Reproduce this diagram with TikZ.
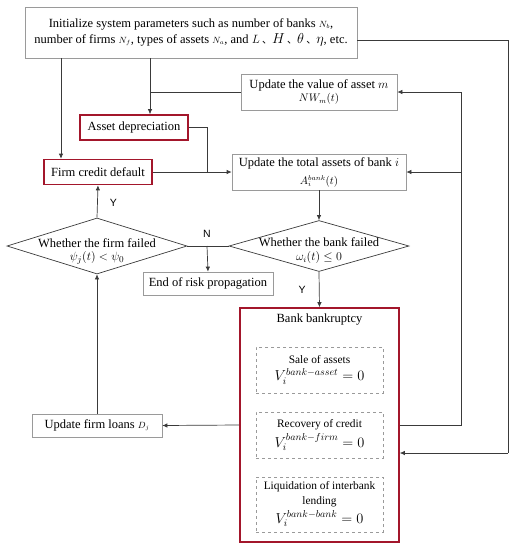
\documentclass[tikz,border=0pt]{standalone}
\usepackage{fontspec}
\setmainfont{Liberation Serif}
\newfontfamily\cjk{Noto Sans CJK SC}
\newfontfamily\labfont{Liberation Sans}
\usetikzlibrary{arrows.meta,shapes.geometric}
\definecolor{myred}{HTML}{A3162B}
\definecolor{bgray}{HTML}{9A9A9A}
\definecolor{lgray}{HTML}{3A3A3A}
\newcommand{\fs}[1]{\fontsize{#1}{#1}\selectfont}
\begin{document}
\begin{tikzpicture}[x=1pt,y=-1pt,
  every node/.style={font=\fontsize{12.5}{15}\selectfont, inner sep=0pt, align=center},
  box/.style={draw=bgray, line width=0.7pt, rectangle},
  redbox/.style={draw=myred, line width=1.6pt, rectangle},
  dbox/.style={draw=bgray, line width=0.6pt, dashed, rectangle},
  dtext/.style={font=\fontsize{11.4}{14}\selectfont},
  dia/.style={draw=lgray, line width=0.7pt, diamond, aspect=1},
  ln/.style={draw=lgray, line width=0.7pt},
  arr/.style={ln, -{Latex[length=5pt,width=4.5pt]}},
  lab/.style={font=\labfont\fontsize{10.5}{12}\selectfont}
]
\useasboundingbox (0,0) rectangle (516,550);

\node[box, minimum width=332pt, minimum height=51pt, font=\fontsize{12.5}{16.5}\selectfont] (init) at (191,32.5)
 {Initialize system parameters such as number of banks $\scriptstyle N_b$,\\
  number of firms $\scriptstyle N_f$, types of assets $\scriptstyle N_a$, and $L${\cjk\fs{10} 、}{\fs{14}$H$}{\cjk\fs{10} 、}{\fs{14}$\theta$}{\cjk\fs{10} 、}{\fs{14}$\eta$}, etc.};

\node[box, minimum width=156pt, minimum height=36pt] (uval) at (319,92)
 {Update the value of asset $m$\\[-2pt] {\fs{10.5}$NW_m(t)$}};

\node[redbox, minimum width=108pt, minimum height=25pt] (adep) at (134,127.5) {Asset depreciation};

\node[redbox, minimum width=108pt, minimum height=25pt] (fcd) at (98,172) {Firm credit default};

\node[box, minimum width=174pt, minimum height=36pt] (utot) at (319,172)
 {Update the total assets of bank $i$\\[3pt] {\fs{10.5}$A_i^{bank}(t)$}};

\node[dia, minimum width=180pt, minimum height=51pt] (bankd) at (319,246) {};
\node (bankdt) at (319,251) {Whether the bank failed\\[-1pt] {\fs{11.5}$\omega_i(t)\le 0$}};

\node[dia, minimum width=180pt, minimum height=56pt] (firmd) at (97,246) {};
\node (firmdt) at (97,251.5) {Whether the firm failed\\[-2pt] {\fs{13}$\psi_j(t)<\psi_0$}};

\node[box, minimum width=130pt, minimum height=23pt] (endb) at (208,283.5) {End of risk propagation};

\node[redbox, minimum width=159pt, minimum height=234pt] (bkr) at (319.5,425) {};
\node (bkrt) at (319.5,320) {Bank bankruptcy};

\node[dbox, minimum width=127pt, minimum height=46pt] (b1) at (319.5,370) {};
\node[dtext] (b1t) at (319.5,370)
 {Sale of assets\\[3pt] {\fs{14}$V_i^{bank-asset}=0$}};
\node[dbox, minimum width=127pt, minimum height=46pt] (b2) at (319.5,435) {};
\node[dtext] (b2t) at (319.5,435)
 {Recovery of credit\\[3pt] {\fs{14}$V_i^{bank-firm}=0$}};
\node[dbox, minimum width=127pt, minimum height=55pt] (b3) at (319.5,504.5) {};
\node[dtext] (b3t) at (319.5,504)
 {Liquidation of interbank\\[1pt] lending\\[3pt] {\fs{14}$V_i^{bank-bank}=0$}};

\node[box, minimum width=130pt, minimum height=23pt] (ufl) at (97,425.5)
 {Update firm loans $\scriptstyle D_j$};

% helper coordinates
\coordinate (xl) at (61,0);
\coordinate (xm) at (150,0);
\coordinate (xa) at (207,0);
\coordinate (xr1) at (461,0);
\coordinate (xr2) at (508,0);
\coordinate (yt) at (0,40);
\coordinate (yb) at (0,453);

% connectors
\draw[arr] (init.south -| xl) -- (fcd.north -| xl);
\draw[arr] (init.south -| xm) -- (adep.north -| xm);
\draw[ln] (uval.west) -- (uval.west -| xm);
\draw[ln] (adep.east) -- (adep.east -| xa) -- (fcd.east -| xa);
\draw[arr] (fcd.east) -- (utot.west);
\draw[arr] (utot.south) -- (bankd.north);
\draw[arr] (bankd.south) -- node[lab, pos=0.5, xshift=-17pt] {Y} (bkr.north);
\draw[arr] (firmd.north) -- node[lab, pos=0.45, xshift=16pt] {Y} (fcd.south);
\draw[ln] (firmd.east) -- (bankd.west);
\node[lab] (nlab) at (207,234) {N};
\draw[arr] (firmd.east -| xa) -- (endb.north);
\draw[arr] (bkr.west) -- (ufl.east);
\draw[arr] (ufl.north) -- (firmd.south);
\draw[ln] (bkr.east) -- (bkr.east -| xr1) -- (uval.east -| xr1);
\draw[arr] (uval.east -| xr1) -- (uval.east);
\draw[arr] (utot.east -| xr1) -- (utot.east);
\draw[ln] (init.east |- yt) -- (xr2 |- yt) -- (xr2 |- yb);
\draw[arr] (xr2 |- yb) -- (bkr.east |- yb);
\end{tikzpicture}
\end{document}
